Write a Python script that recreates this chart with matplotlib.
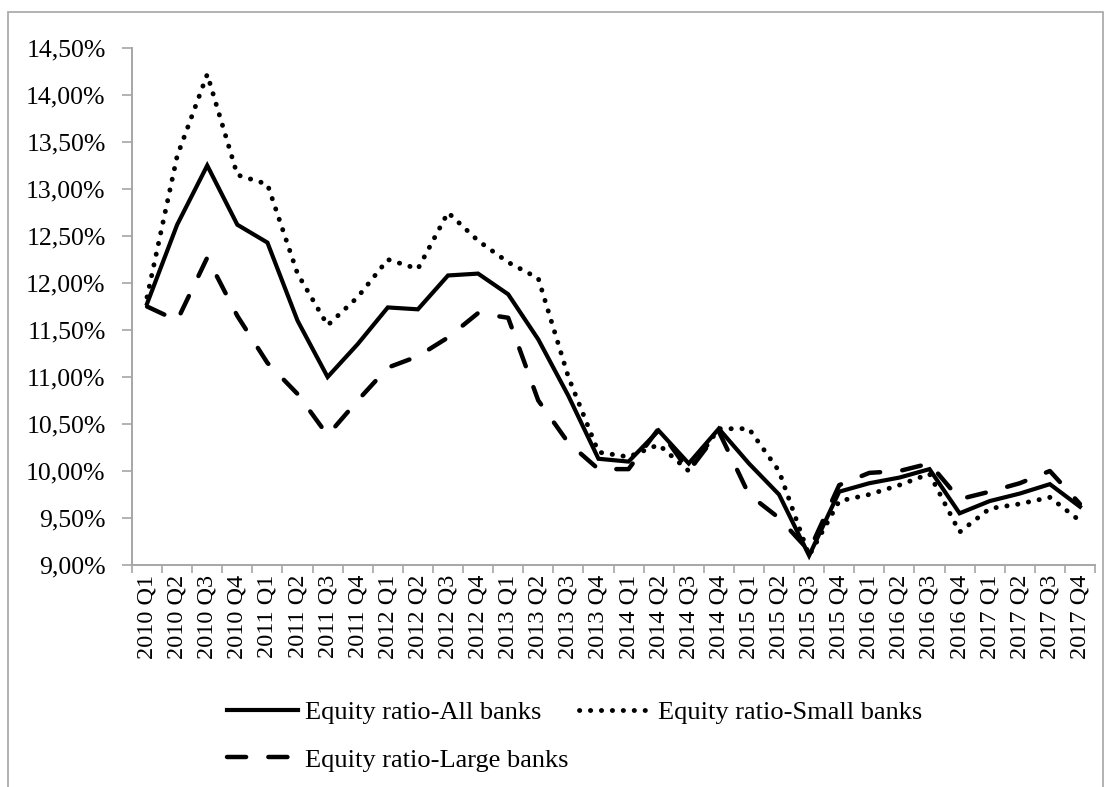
import numpy as np
import matplotlib.pyplot as plt
from matplotlib.patches import Rectangle

# quarters 2010 Q1 .. 2017 Q4
quarters = [f"{y} Q{q}" for y in range(2010, 2018) for q in range(1, 5)]

# equity ratios (%)
all_banks = [11.78, 12.62, 13.25, 12.62, 12.43, 11.60, 11.00, 11.35,
             11.74, 11.72, 12.08, 12.10, 11.88, 11.40, 10.80, 10.13,
             10.10, 10.43, 10.08, 10.45, 10.08, 9.75, 9.10, 9.78,
             9.87, 9.93, 10.02, 9.55, 9.68, 9.76, 9.86, 9.62]
small_banks = [11.85, 13.35, 14.22, 13.15, 13.05, 12.10, 11.55, 11.85,
               12.25, 12.15, 12.75, 12.45, 12.22, 12.05, 11.00, 10.20,
               10.15, 10.28, 10.00, 10.45, 10.45, 10.00, 9.10, 9.68,
               9.75, 9.85, 9.97, 9.35, 9.60, 9.65, 9.72, 9.47]
large_banks = [11.75, 11.60, 12.27, 11.65, 11.15, 10.82, 10.38, 10.75,
               11.10, 11.22, 11.42, 11.68, 11.63, 10.75, 10.30, 10.02,
               10.02, 10.45, 10.00, 10.42, 9.75, 9.50, 9.15, 9.85,
               9.98, 10.00, 10.08, 9.70, 9.78, 9.87, 10.00, 9.65]

plt.rcParams['font.family'] = ['Liberation Serif', 'DejaVu Serif']

W, H = 1113, 787
fig = plt.figure(figsize=(W / 100, H / 100), dpi=100)
ax = fig.add_axes([132 / W, 1 - 565 / H, (1095 - 132) / W, (565 - 48) / H])

x = np.arange(len(quarters))
l_all, = ax.plot(x, all_banks, color='black', lw=3.0, solid_joinstyle='miter',
                 label='Equity ratio-All banks')
l_small, = ax.plot(x, small_banks, color='black', lw=3.5, linestyle=(0, (0.05, 2.2)),
                   dash_capstyle='round', label='Equity ratio-Small banks')
l_large, = ax.plot(x, large_banks, color='black', lw=3.2, linestyle=(0, (4.3, 5.0)),
                   dash_capstyle='round', label='Equity ratio-Large banks')

ax.set_xlim(-0.5, len(quarters) - 0.5)
ax.set_ylim(9.0, 14.5)
yt = np.arange(9.0, 14.51, 0.5)
ax.set_yticks(yt)
ax.set_yticklabels([f"{v:.2f}%".replace('.', ',') for v in yt], fontsize=18.5)

# ticks sit between categories, labels centred on each category
ax.set_xticks(np.arange(-0.5, len(quarters), 1.0))
ax.set_xticklabels([])
ax.set_xticks(x, minor=True)
ax.set_xticklabels(quarters, minor=True, rotation=90, fontsize=17.5)
ax.tick_params(axis='x', which='minor', length=0, pad=7)
ax.tick_params(axis='x', which='major', length=6, color='#a6a6a6', width=1.2)
ax.tick_params(axis='y', length=7, color='#a6a6a6', width=1.2, pad=12)

for side in ['top', 'right']:
    ax.spines[side].set_visible(False)
for side in ['left', 'bottom']:
    ax.spines[side].set_color('#a6a6a6')
    ax.spines[side].set_linewidth(1.4)

# column-major fill: All / Large in column 1, Small in column 2
fig.legend([l_all, l_large, l_small],
           [l_all.get_label(), l_large.get_label(), l_small.get_label()],
           loc='upper left', bbox_to_anchor=(227 / W, 1 - 701 / H), ncol=2,
           frameon=False, fontsize=19, handlelength=2.7, columnspacing=0.4,
           handletextpad=0.27, labelspacing=0.9, borderpad=0, borderaxespad=0)

# outer chart border
fig.patches.append(Rectangle((8 / W, -0.05), (1103 - 8) / W, 1.05 - 12 / H,
                             transform=fig.transFigure, fill=False,
                             edgecolor='#a6a6a6', lw=1.2))

fig.savefig('out.png', dpi=100)
